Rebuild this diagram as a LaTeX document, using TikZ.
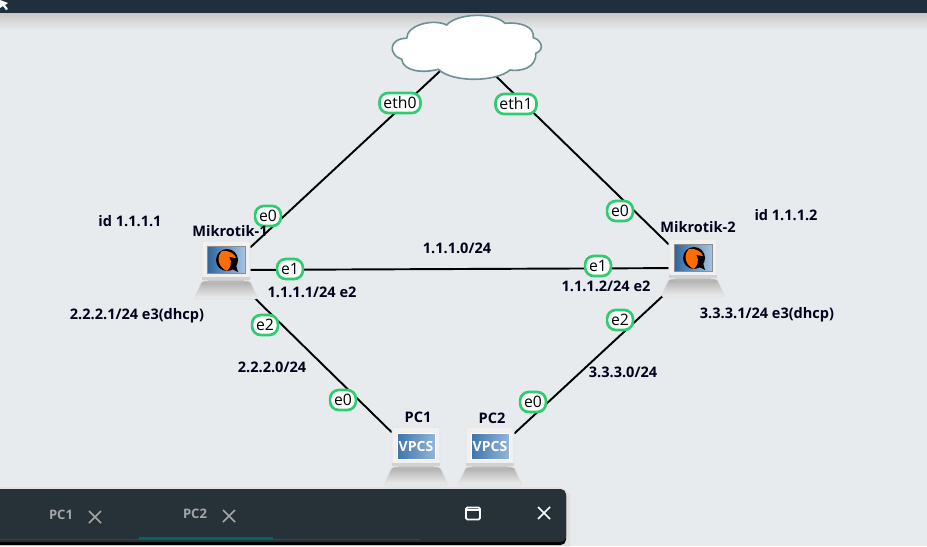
\documentclass[tikz,border=0pt]{standalone}
\usepackage{fontspec}
\setmainfont{Open Sans}

\definecolor{canvasbg}{HTML}{E8EBEE}
\definecolor{barbg}{HTML}{1F303C}
\definecolor{panelbg}{HTML}{263238}
\definecolor{portgreen}{HTML}{2ECC71}
\definecolor{cloudline}{HTML}{6F9093}
\definecolor{screendark}{HTML}{2F659B}
\definecolor{screenlight}{HTML}{A6C4E2}
\definecolor{vpcsdark}{HTML}{3F74AC}
\definecolor{vpcslight}{HTML}{93B5D6}

\tikzset{
	hostbox/.style={minimum width=36pt, minimum height=43pt, inner sep=0pt},
	portlabel/.style={draw=portgreen, line width=2pt, fill=white, rounded corners=6.5pt, minimum height=15pt, inner xsep=3pt, inner ysep=0pt, font=\fontsize{11.8}{12}\selectfont},
	iplabel/.style={font=\fontsize{10.9}{12}\selectfont\bfseries, text=black!90!blue},
	tablabel/.style={font=\fontsize{9.8}{12}\selectfont\bfseries, text=black!35!white},
	link/.style={draw=black, line width=1.45pt},
	tabcross/.style={draw=black!35!white, line width=1.3pt},
	hostbody/.pic={
		\shade[top color=black!32, bottom color=black!6, draw=black!14, rounded corners=2pt] (-24,11) -- (24,11) -- (32,29) -- (-32,29) -- cycle;
		\fill[black!28] (-18,8) rectangle (18,13);
		\fill[black!6, draw=black!12, rounded corners=1.5pt] (-24,-29) rectangle (24,10);
		\fill[black!18] (-24,7) rectangle (24,10);
	},
	qemuhost/.pic={
		\pic {hostbody};
		\shade[left color=screendark, right color=screenlight, draw=black!45] (-19,-24) rectangle (19,3);
		\fill[black] (1,-10) circle (11);
		\fill[black] (4,-2) -- (12,2) -- (10,-5) -- cycle;
		\fill[orange!85!red] (-4,-19) .. controls (3,-20) and (9,-16) .. (10,-12) -- (3,-13) .. controls (7,-7) and (4,-2) .. (1,1) .. controls (-8,-3) and (-10,-13) .. cycle;
	},
	vpcshost/.pic={
		\pic {hostbody};
		\shade[left color=vpcsdark, right color=vpcslight, draw=white, line width=.6pt] (-19,-23) rectangle (19,3);
		\node[text=white, inner sep=0pt, font=\fontsize{10.5}{12}\selectfont\bfseries] at (0,-10) {VPCS};
	},
}

\begin{document}
\begin{tikzpicture}[x=0.75pt, y=-0.75pt]
	\useasboundingbox (0,0) rectangle (927,546);
	\fill[canvasbg] (0,0) rectangle (927,546);

	%Barra superior:
	\shade[top color=black!22, bottom color=canvasbg] (0,13) rectangle (927,30);
	\fill[barbg] (0,0) rectangle (927,13);
	\fill[white] (0,0) -- (8,3) -- (5,5) -- (8,9) -- (6,10) -- (3,6) -- (0,8) -- cycle;

	%Dispositivos:
	\coordinate (Cloud) at (466,47);
	\node[hostbox]	(R1)	at (226,270)	{};
	\node[hostbox]	(R2)	at (693,268)	{};
	\node[hostbox]	(PC1)	at (416,456)	{};
	\node[hostbox]	(PC2)	at (490,456)	{};

	%Ligacoes:
	\path[link] (R1) edge (Cloud)
		(R2) edge (Cloud)
		(R1) edge (R2)
		(R1) edge (PC1)
		(R2) edge (PC2);

	%Nuvem:
	\draw[cloudline, fill=white, line width=1.2pt] (406.7,38.3)
		.. controls (406.7,25) and (433.3,18.3) .. (446.7,25)
		.. controls (456.7,13.3) and (493.3,11.7) .. (505,23.3)
		.. controls (520,21.7) and (535,26.7) .. (533.3,37.7)
		.. controls (541.7,40) and (545,50) .. (535.7,53.3)
		.. controls (536.7,68.3) and (520,71.7) .. (510,70)
		.. controls (496.7,81.7) and (453.3,83.3) .. (438.3,69.3)
		.. controls (423.3,73.3) and (403.3,71.7) .. (401.7,59.3)
		.. controls (388.3,55) and (388.3,38.3) .. cycle;

	\pic at (R1) {qemuhost};
	\pic at (R2) {qemuhost};
	\pic at (PC1) {vpcshost};
	\pic at (PC2) {vpcshost};

	%Portas:
	\node[portlabel]	(p1)	at (400,103)	{eth0};
	\node[portlabel]	(p2)	at (516,104)	{eth1};
	\node[portlabel]	(p3)	at (268,216)	{e0};
	\node[portlabel]	(p4)	at (620,211)	{e0};
	\node[portlabel]	(p5)	at (290,269)	{e1};
	\node[portlabel]	(p6)	at (598,266)	{e1};
	\node[portlabel]	(p7)	at (265,325)	{e2};
	\node[portlabel]	(p8)	at (620,320)	{e2};
	\node[portlabel]	(p9)	at (343,400)	{e0};
	\node[portlabel]	(p10)	at (533,402)	{e0};

	%Textos:
	\node[iplabel]	(t1)	at (130,221)	{id 1.1.1.1};
	\node[iplabel]	(t2)	at (230,231)	{Mikrotik-1};
	\node[iplabel]	(t3)	at (457,248)	{1.1.1.0/24};
	\node[iplabel]	(t4)	at (786,215)	{id 1.1.1.2};
	\node[iplabel]	(t5)	at (698,227)	{Mikrotik-2};
	\node[iplabel]	(t6)	at (312,292)	{1.1.1.1/24 e2};
	\node[iplabel]	(t7)	at (606,286)	{1.1.1.2/24 e2};
	\node[iplabel]	(t8)	at (137,316)	{2.2.2.1/24 e3(dhcp)};
	\node[iplabel]	(t9)	at (767,315)	{3.3.3.1/24 e3(dhcp)};
	\node[iplabel]	(t10)	at (272,367)	{2.2.2.0/24};
	\node[iplabel]	(t11)	at (623,372)	{3.3.3.0/24};
	\node[iplabel]	(t12)	at (418,417)	{PC1};
	\node[iplabel]	(t13)	at (492,418)	{PC2};

	%Painel inferior:
	\fill[black!12] (0,487) -- (560,487) -- (570,494) -- (570,546) -- (0,546) -- cycle;
	\fill[black, rounded corners=4pt] (-8,490) rectangle (566,545);
	\fill[panelbg, rounded corners=4pt] (-8,489) rectangle (566,542);
	\draw[black!60!panelbg!80!white] (0,539.5) -- (420,539.5);
	\fill[teal!80!black] (139,537) rectangle (273,539.5);
	\node[tablabel]	(tab1)	at (61,515)	{PC1};
	\node[tablabel]	(tab2)	at (195,514)	{PC2};
	\draw[tabcross] (89,511) -- (101,523) (101,511) -- (89,523);
	\draw[tabcross] (223,510) -- (235,522) (235,510) -- (223,522);
	\draw[white, line width=1.3pt, rounded corners=1pt] (466,507.5) rectangle (480,519.5);
	\draw[white, line width=1.3pt] (466,510) -- (480,510);
	\draw[white, line width=1.3pt] (538,507) -- (550,519) (550,507) -- (538,519);
\end{tikzpicture}
\end{document}
